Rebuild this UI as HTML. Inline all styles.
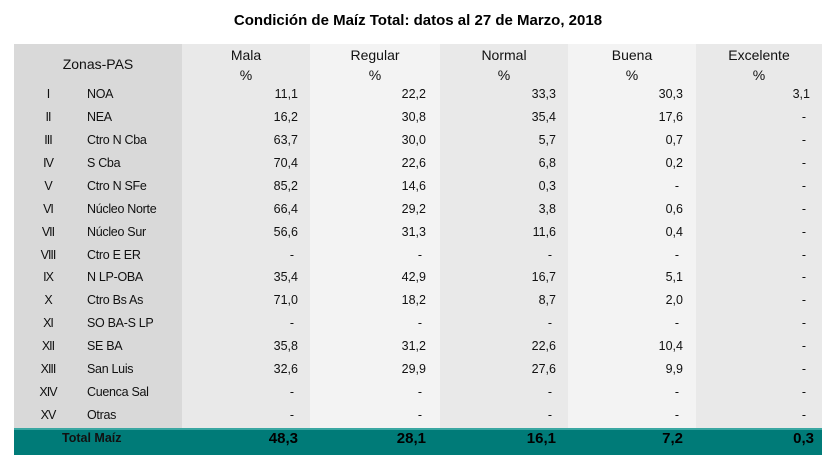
<!DOCTYPE html><html><head><meta charset="utf-8"><style>
body{margin:0;width:836px;height:459px;background:#fff;font-family:"Liberation Sans",sans-serif;position:relative;overflow:hidden}
.t{position:absolute;top:12px;left:0;width:836px;text-align:center;font-weight:bold;font-size:15px;color:#000}
.c{position:absolute;top:44px;height:384px}
.r{position:absolute;font-size:12.5px;color:#111;white-space:nowrap}
.tot{position:absolute;left:14px;top:428px;width:808px;height:25px;background:#007b78;border-top:2px solid #3aa7a2}
.tv{position:absolute;top:430px;font-weight:bold;font-size:15px;color:#000}
</style></head><body>
<div class="t">Condición de Maíz Total: datos al 27 de Marzo, 2018</div>
<div class="c" style="left:14px;width:168px;background:#d9d9d9"></div>
<div class="c" style="left:182px;width:128px;background:#e9e9e9"></div>
<div class="c" style="left:310px;width:130px;background:#f3f3f3"></div>
<div class="c" style="left:440px;width:128px;background:#e9e9e9"></div>
<div class="c" style="left:568px;width:128px;background:#f3f3f3"></div>
<div class="c" style="left:696px;width:126px;background:#e9e9e9"></div>
<div class="r" style="left:14px;width:168px;text-align:center;top:56px;font-size:14px">Zonas-PAS</div>
<div class="r" style="left:182px;width:128px;text-align:center;top:45px;font-size:14px;line-height:20px">Mala<br>%</div>
<div class="r" style="left:310px;width:130px;text-align:center;top:45px;font-size:14px;line-height:20px">Regular<br>%</div>
<div class="r" style="left:440px;width:128px;text-align:center;top:45px;font-size:14px;line-height:20px">Normal<br>%</div>
<div class="r" style="left:568px;width:128px;text-align:center;top:45px;font-size:14px;line-height:20px">Buena<br>%</div>
<div class="r" style="left:696px;width:126px;text-align:center;top:45px;font-size:14px;line-height:20px">Excelente<br>%</div>
<div id="rows"></div>
<div class="tot"></div>
<div class="r" style="left:62px;top:431px;font-weight:bold;font-size:12.5px">Total Maíz</div>
<div class="tv" style="right:538px">48,3</div>
<div class="tv" style="right:410px">28,1</div>
<div class="tv" style="right:280px">16,1</div>
<div class="tv" style="right:153px">7,2</div>
<div class="tv" style="right:22px">0,3</div>
<script>
var d=[["I","NOA","11,1","22,2","33,3","30,3","3,1"],["II","NEA","16,2","30,8","35,4","17,6","-"],["III","Ctro N Cba","63,7","30,0","5,7","0,7","-"],["IV","S Cba","70,4","22,6","6,8","0,2","-"],["V","Ctro N SFe","85,2","14,6","0,3","-","-"],["VI","Núcleo Norte","66,4","29,2","3,8","0,6","-"],["VII","Núcleo Sur","56,6","31,3","11,6","0,4","-"],["VIII","Ctro E ER","-","-","-","-","-"],["IX","N LP-OBA","35,4","42,9","16,7","5,1","-"],["X","Ctro Bs As","71,0","18,2","8,7","2,0","-"],["XI","SO BA-S LP","-","-","-","-","-"],["XII","SE BA","35,8","31,2","22,6","10,4","-"],["XIII","San Luis","32,6","29,9","27,6","9,9","-"],["XIV","Cuenca Sal","-","-","-","-","-"],["XV","Otras","-","-","-","-","-"]];
var R=[538,410,280,153,26],h="";
d.forEach(function(r,i){var y=87+i*22.93;
h+='<div class="r" style="left:36px;width:24px;text-align:center;top:'+y+'px;letter-spacing:-1px">'+r[0]+'</div>';
h+='<div class="r" style="left:87px;top:'+y+'px;letter-spacing:-0.3px">'+r[1]+'</div>';
for(var j=0;j<5;j++){var v=r[j+2];h+='<div class="r" style="right:'+(v=="-"?R[j]+4:R[j])+'px;top:'+y+'px">'+v+'</div>';}
});
document.getElementById('rows').innerHTML=h;
</script>
</body></html>
